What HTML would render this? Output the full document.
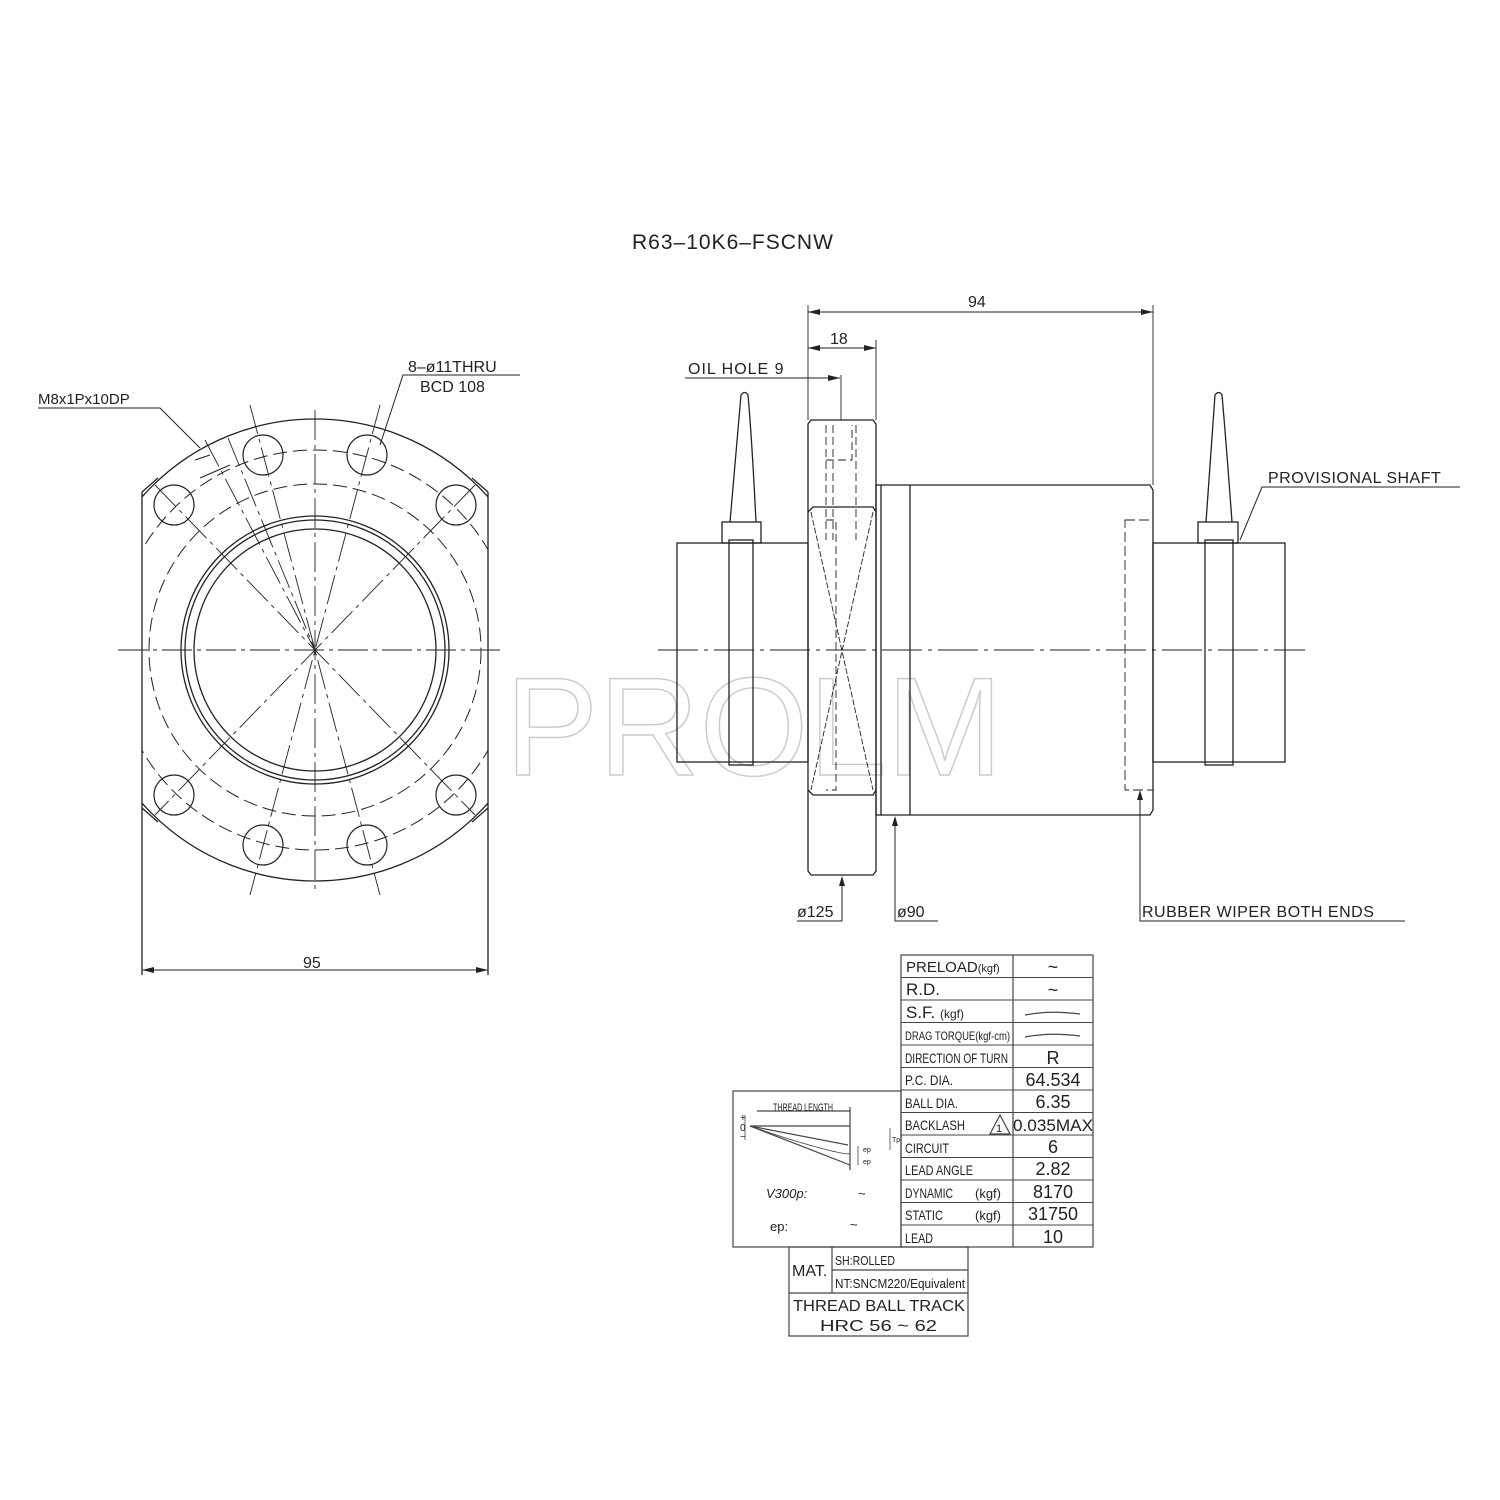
<!DOCTYPE html>
<html><head><meta charset="utf-8"><style>
html,body{margin:0;padding:0;background:#fff;}
svg{display:block;}
text{font-family:"Liberation Sans",sans-serif;fill:#222;}
.c{font-family:"Liberation Sans Narrow","Liberation Sans",sans-serif;}
</style></head><body>
<svg width="1500" height="1500" viewBox="0 0 1500 1500" xmlns="http://www.w3.org/2000/svg">
<g stroke="#222" fill="none" stroke-width="1.3">
<text x="505" y="775" font-size="140" fill="none" stroke="#ccc" stroke-width="1.5" style="fill:none">PROLM</text>
</g>
<text x="632" y="249" font-size="21" letter-spacing="1">R63–10K6–FSCNW</text>

<!-- FRONT VIEW -->
<g stroke="#222" fill="none" stroke-width="1.3">
<clipPath id="fc"><rect x="142" y="400" width="346" height="500"/></clipPath>
<circle cx="315" cy="650" r="231" clip-path="url(#fc)"/>
<line x1="142" y1="492" x2="142" y2="975"/>
<line x1="488" y1="492" x2="488" y2="975"/>
<line x1="142" y1="492" x2="158" y2="478"/>
<line x1="488" y1="492" x2="472" y2="478"/>
<line x1="142" y1="808" x2="158" y2="822"/>
<line x1="488" y1="808" x2="472" y2="822"/>
<circle cx="315" cy="650" r="200" stroke-dasharray="14 6" stroke-width="1" clip-path="url(#fc)"/>
<circle cx="315" cy="650" r="166" stroke-dasharray="14 6" stroke-width="1"/>
<circle cx="315" cy="650" r="134"/>
<circle cx="315" cy="650" r="130"/>
<circle cx="315" cy="650" r="121"/>
<g stroke-width="1.2">
<circle cx="263" cy="455" r="20"/><circle cx="367" cy="455" r="20"/>
<circle cx="174" cy="505" r="20"/><circle cx="456" cy="505" r="20"/>
<circle cx="174" cy="795" r="20"/><circle cx="456" cy="795" r="20"/>
<circle cx="263" cy="845" r="20"/><circle cx="367" cy="845" r="20"/>
</g>
<g stroke-width="0.9" stroke-dasharray="30 5 4 5">
<line x1="250" y1="405" x2="380" y2="895"/>
<line x1="380" y1="405" x2="250" y2="895"/>
<line x1="155" y1="485" x2="475" y2="815"/>
<line x1="475" y1="485" x2="155" y2="815"/>
<line x1="315" y1="410" x2="315" y2="890"/>
<line x1="118" y1="650" x2="505" y2="650"/>
<line x1="205" y1="440" x2="315" y2="650"/>
<line x1="228" y1="438" x2="315" y2="650"/>
</g>
<line x1="195" y1="460" x2="210" y2="455" stroke-width="1"/>
<line x1="200" y1="478" x2="230" y2="465" stroke-width="1"/>
<polyline points="38,408 160,408 200,448" stroke-width="1"/>
<polyline points="520,375 403,375 380,445" stroke-width="1"/>
<line x1="142" y1="970" x2="488" y2="970" stroke-width="1"/>
</g>
<path d="M142 970 l12 -3 v6z M488 970 l-12 -3 v6z" fill="#222"/>
<text x="38" y="404" font-size="15">M8x1Px10DP</text>
<text x="408" y="372" font-size="16">8–ø11THRU</text>
<text x="420" y="392" font-size="16">BCD 108</text>
<text x="303" y="968" font-size="16">95</text>

<!-- SIDE VIEW -->
<g stroke="#222" fill="none" stroke-width="1.3">
<line x1="658" y1="650" x2="1305" y2="650" stroke-width="0.9" stroke-dasharray="40 6 4 6"/>
<rect x="677" y="543" width="131" height="219"/>
<rect x="1153" y="543" width="132" height="219"/>
<rect x="729" y="540" width="24" height="225"/>
<rect x="722" y="522" width="39" height="21"/>
<path d="M730 522 Q737 440 741 395 Q745 390 748 395 Q752 440 756 522"/>
<rect x="1205" y="540" width="28" height="225"/>
<rect x="1198" y="522" width="40" height="21"/>
<path d="M1206 522 Q1212 440 1215 395 Q1219 390 1222 395 Q1226 440 1232 522"/>
<path d="M811 420 H873 L876 424 V871 L873 875 H811 L808 871 V424 Z"/>
<path d="M808 512 L813 507 H873 L876 512 M808 790 L813 795 H873 L876 790"/>
<path d="M811 512 L873 790 M873 512 L811 790" stroke-width="0.9" stroke-dasharray="6 2"/>
<g stroke-dasharray="8 4" stroke-width="0.9">
<line x1="826" y1="425" x2="826" y2="540"/>
<line x1="833" y1="425" x2="833" y2="540"/>
<line x1="856" y1="425" x2="856" y2="540"/>
<polyline points="826,460 852,460 852,425"/>
<polyline points="826,520 836,520 836,790 826,790"/>
</g>
<rect x="876" y="485" width="5" height="330"/>
<path d="M881 485 H1150 L1153 490 V810 L1150 815 H881"/>
<line x1="910" y1="485" x2="910" y2="815"/>
<rect x="1125" y="520" width="28" height="270" stroke-dasharray="10 4" stroke-width="0.9"/>
<line x1="808" y1="420" x2="808" y2="305" stroke-width="0.9"/>
<line x1="1153" y1="485" x2="1153" y2="305" stroke-width="0.9"/>
<line x1="876" y1="420" x2="876" y2="340" stroke-width="0.9"/>
<line x1="808" y1="312" x2="1153" y2="312" stroke-width="1"/>
<line x1="808" y1="348" x2="876" y2="348" stroke-width="1"/>
<polyline points="685,378 840,378" stroke-width="1"/>
<line x1="841" y1="375" x2="841" y2="420" stroke-width="0.9"/>
<polyline points="797,921 842,921 842,878" stroke-width="1"/>
<polyline points="938,921 895,921 895,818" stroke-width="1"/>
<polyline points="1405,921 1140,921 1140,792" stroke-width="1"/>
<polyline points="1460,487 1262,487 1240,540" stroke-width="1"/>
</g>
<path d="M808 312 l12 -3 v6z M1153 312 l-12 -3 v6z M808 348 l12 -3 v6z M876 348 l-12 -3 v6z M840 378 l-12 -3 v6z M842 876 l-3 10 h6z M895 816 l-3 10 h6z M1140 790 l-3 10 h6z" fill="#222"/>
<text x="968" y="307" font-size="16">94</text>
<text x="830" y="344" font-size="16">18</text>
<text x="688" y="374" font-size="16" letter-spacing="1">OIL HOLE 9</text>
<text x="797" y="917" font-size="16">ø125</text>
<text x="897" y="917" font-size="16">ø90</text>
<text x="1142" y="917" font-size="16" letter-spacing="0.5">RUBBER WIPER BOTH ENDS</text>
<text x="1268" y="483" font-size="16" letter-spacing="0.5">PROVISIONAL SHAFT</text>

<!-- TABLE -->
<g stroke="#444" fill="none" stroke-width="1.2">
<rect x="901" y="955" width="192" height="292"/>
<line x1="1013" y1="955" x2="1013" y2="1247"/>
<g stroke-width="1">
<line x1="901" y1="977.5" x2="1093" y2="977.5"/><line x1="901" y1="1000" x2="1093" y2="1000"/>
<line x1="901" y1="1022.5" x2="1093" y2="1022.5"/><line x1="901" y1="1045" x2="1093" y2="1045"/>
<line x1="901" y1="1067.5" x2="1093" y2="1067.5"/><line x1="901" y1="1090" x2="1093" y2="1090"/>
<line x1="901" y1="1112.5" x2="1093" y2="1112.5"/><line x1="901" y1="1135" x2="1093" y2="1135"/>
<line x1="901" y1="1157.5" x2="1093" y2="1157.5"/><line x1="901" y1="1180" x2="1093" y2="1180"/>
<line x1="901" y1="1202.5" x2="1093" y2="1202.5"/><line x1="901" y1="1225" x2="1093" y2="1225"/>
</g>
<rect x="733" y="1091" width="168" height="156"/>
<rect x="789" y="1247" width="179" height="89"/>
<line x1="832" y1="1247" x2="832" y2="1293"/>
<line x1="832" y1="1270" x2="968" y2="1270"/>
<line x1="789" y1="1293" x2="968" y2="1293"/>
<path d="M1000 1134 L990 1134 L1000 1115 L1010 1134 Z"/>
<path d="M1025 1015 Q1050 1010 1080 1014 M1025 1037 Q1050 1032 1080 1036"/>
<line x1="750" y1="1126" x2="850" y2="1126"/>
<line x1="750" y1="1126" x2="848" y2="1145"/>
<line x1="750" y1="1126" x2="850" y2="1165"/>
<path d="M750 1126 Q790 1140 820 1148 T850 1153" stroke-width="0.8"/>
<line x1="757" y1="1111" x2="850" y2="1111"/>
<line x1="850" y1="1107" x2="850" y2="1170"/>
<line x1="745" y1="1115" x2="745" y2="1140" stroke-width="0.8"/>
<line x1="858" y1="1146" x2="858" y2="1165" stroke-width="0.8"/>
<line x1="890" y1="1128" x2="890" y2="1150" stroke-width="0.8"/>
</g>
<g font-size="15">
<text x="906" y="972">PRELOAD<tspan font-size="11">(kgf)</tspan></text>
<text x="906" y="995" font-size="17">R.D.</text>
<text x="906" y="1018" font-size="17">S.F. <tspan font-size="12">(kgf)</tspan></text>
<text x="905" y="1040" font-size="12" class="c" textLength="105" lengthAdjust="spacingAndGlyphs">DRAG TORQUE(kgf-cm)</text>
<text x="905" y="1063" font-size="14" textLength="103" lengthAdjust="spacingAndGlyphs">DIRECTION OF TURN</text>
<text x="905" y="1085" font-size="14" textLength="48" lengthAdjust="spacingAndGlyphs">P.C. DIA.</text>
<text x="905" y="1108" font-size="14" textLength="53" lengthAdjust="spacingAndGlyphs">BALL DIA.</text>
<text x="905" y="1130" font-size="14" textLength="60" lengthAdjust="spacingAndGlyphs">BACKLASH</text>
<text x="996" y="1132" font-size="11">1</text>
<text x="905" y="1153" font-size="14" textLength="44" lengthAdjust="spacingAndGlyphs">CIRCUIT</text>
<text x="905" y="1175" font-size="14" textLength="68" lengthAdjust="spacingAndGlyphs">LEAD ANGLE</text>
<text x="905" y="1198" font-size="14" textLength="48" lengthAdjust="spacingAndGlyphs">DYNAMIC</text>
<text x="975" y="1198" font-size="13">(kgf)</text>
<text x="905" y="1220" font-size="14" textLength="38" lengthAdjust="spacingAndGlyphs">STATIC</text>
<text x="975" y="1220" font-size="13">(kgf)</text>
<text x="905" y="1243" font-size="14" textLength="28" lengthAdjust="spacingAndGlyphs">LEAD</text>
</g>
<g font-size="18" text-anchor="middle">
<text x="1053" y="973">~</text>
<text x="1053" y="996">~</text>
<text x="1053" y="1064">R</text>
<text x="1053" y="1086">64.534</text>
<text x="1053" y="1108">6.35</text>
<text x="1053" y="1131" font-size="17" textLength="80" lengthAdjust="spacingAndGlyphs">0.035MAX</text>
<text x="1053" y="1153">6</text>
<text x="1053" y="1175">2.82</text>
<text x="1053" y="1198">8170</text>
<text x="1053" y="1220">31750</text>
<text x="1053" y="1243">10</text>
</g>
<text x="773" y="1111" font-size="11" class="c" textLength="60" lengthAdjust="spacingAndGlyphs">THREAD LENGTH</text>
<text x="740" y="1121" font-size="10">+</text>
<text x="740" y="1131" font-size="10">0</text>
<text x="740" y="1140" font-size="10">−</text>
<text x="863" y="1152" font-size="7">ep</text>
<text x="863" y="1164" font-size="7">ep</text>
<text x="892" y="1142" font-size="7">Tp</text>
<text x="766" y="1198" font-size="13" font-style="italic">V300p:</text>
<text x="858" y="1198" font-size="13">~</text>
<text x="770" y="1231" font-size="13">ep:</text>
<text x="850" y="1229" font-size="13">~</text>
<text x="792" y="1276" font-size="16">MAT.</text>
<text x="835" y="1265" font-size="13" class="c" textLength="60" lengthAdjust="spacingAndGlyphs">SH:ROLLED</text>
<text x="835" y="1288" font-size="13" class="c" textLength="130" lengthAdjust="spacingAndGlyphs">NT:SNCM220/Equivalent</text>
<text x="793" y="1311" font-size="16" textLength="172" lengthAdjust="spacingAndGlyphs">THREAD BALL TRACK</text>
<text x="820" y="1331" font-size="16" textLength="117" lengthAdjust="spacingAndGlyphs">HRC 56 ~ 62</text>
</svg>
</body></html>
